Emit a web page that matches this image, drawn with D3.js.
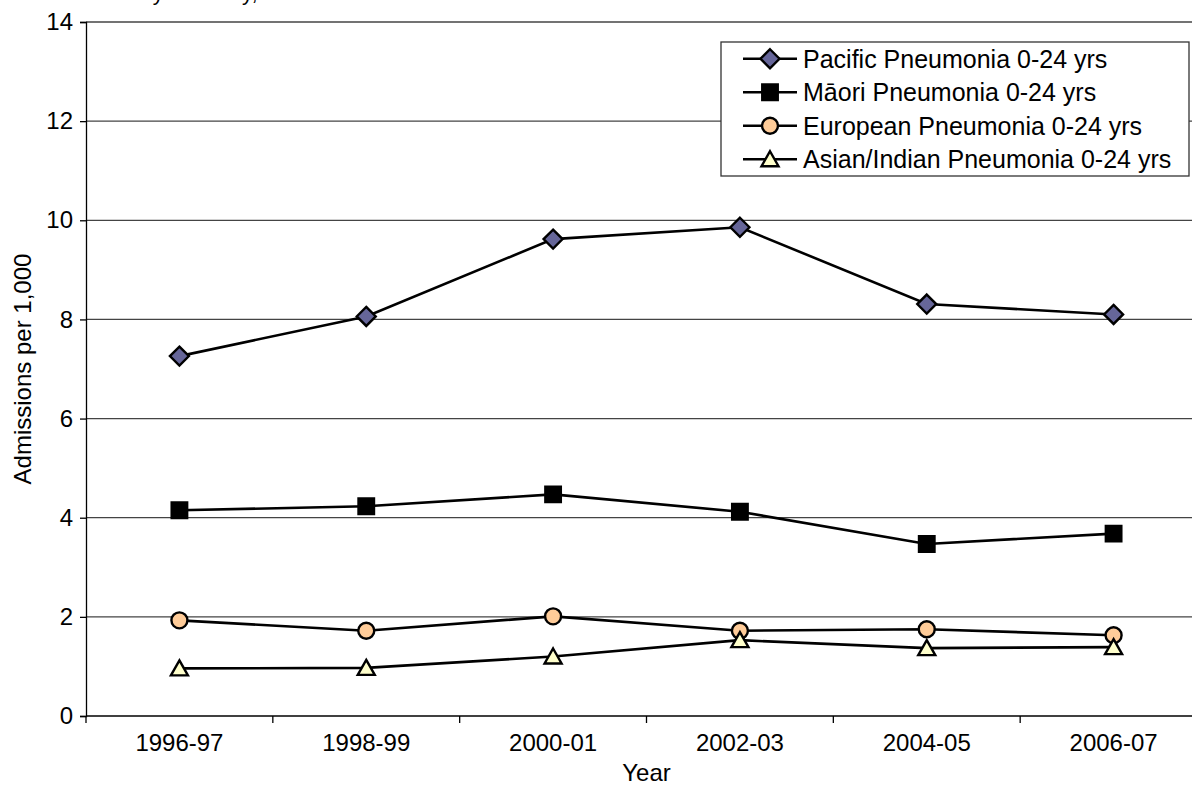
<!DOCTYPE html>
<html>
<head>
<meta charset="utf-8">
<script src="https://cdn.jsdelivr.net/npm/d3@7"></script>
<style>
  html, body { margin: 0; padding: 0; background: #fff; }
  svg { display: block; font-family: "Liberation Sans", Arial, sans-serif; }
</style>
</head>
<body>
<svg id="chart" width="1192" height="785"></svg>
<script>
const categories = ["1996-97", "1998-99", "2000-01", "2002-03", "2004-05", "2006-07"];
const pacific  = [7.26, 8.06, 9.62, 9.86, 8.31, 8.10];
const maori    = [4.15, 4.23, 4.47, 4.12, 3.47, 3.68];
const european = [1.93, 1.72, 2.01, 1.72, 1.75, 1.63];
const asian    = [0.96, 0.97, 1.20, 1.53, 1.37, 1.39];
const seriesNames = ["Pacific Pneumonia 0-24 yrs", "Māori Pneumonia 0-24 yrs", "European Pneumonia 0-24 yrs", "Asian/Indian Pneumonia 0-24 yrs"];
const yTicks = [0, 2, 4, 6, 8, 10, 12, 14];
const titleText = "Rates by Ethnicity, New Zealand 1996–97 to 2006–07";

(function () {
const series = [
  { name: seriesNames[0], values: pacific,  shape: "diamond",  fill: "#666699" },
  { name: seriesNames[1], values: maori,    shape: "square",   fill: "#000000" },
  { name: seriesNames[2], values: european, shape: "circle",   fill: "#FFCC99" },
  { name: seriesNames[3], values: asian,    shape: "triangle", fill: "#FFFFCC" }
];

const svg = d3.select("#chart");
const pLeft = 86, pRight = 1207, pTop = 22, pBottom = 716;

const x = d3.scaleBand().domain(categories).range([pLeft, pRight]).padding(0);
const y = d3.scaleLinear().domain([0, 14]).range([pBottom, pTop]);
const cx = c => x(c) + x.bandwidth() / 2;

// title (cropped at top in the original)
svg.append("text").attr("x", 77).attr("y", 0)
  .attr("font-size", 22).attr("fill", "#000").text(titleText);

// gridlines
svg.append("g").selectAll("line").data(yTicks.filter(d => d > 0)).join("line")
  .attr("x1", pLeft).attr("x2", pRight)
  .attr("y1", d => y(d)).attr("y2", d => y(d))
  .attr("stroke", "#444").attr("stroke-width", 1.3);

// y axis
const yAxis = svg.append("g").attr("transform", `translate(${pLeft},0)`)
  .call(d3.axisLeft(y).tickValues(yTicks).tickSize(6).tickPadding(7).tickFormat(d3.format("d")));
yAxis.selectAll("text").attr("font-size", 24).attr("fill", "#000").attr("font-family", "Liberation Sans, Arial, sans-serif");
yAxis.selectAll("line").attr("stroke", "#000").attr("stroke-width", 1.3);
yAxis.select(".domain").attr("stroke", "#000").attr("stroke-width", 1.3);

// x axis
const xAxis = svg.append("g").attr("transform", `translate(0,${pBottom})`)
  .call(d3.axisBottom(x).tickSize(0).tickPadding(18));
xAxis.select(".domain").remove();
xAxis.selectAll("text").attr("font-size", 24).attr("fill", "#000").attr("font-family", "Liberation Sans, Arial, sans-serif");
svg.append("line").attr("x1", pLeft).attr("x2", pRight).attr("y1", pBottom).attr("y2", pBottom)
  .attr("stroke", "#000").attr("stroke-width", 1.3);
svg.append("g").selectAll("line").data(categories).join("line")
  .attr("x1", d => x(d)).attr("x2", d => x(d))
  .attr("y1", pBottom).attr("y2", pBottom + 7)
  .attr("stroke", "#000").attr("stroke-width", 1.3);

// axis titles
svg.append("text").attr("x", (pLeft + pRight) / 2).attr("y", 781)
  .attr("text-anchor", "middle").attr("font-size", 24).text("Year");
svg.append("text").attr("transform", `translate(31,${(pTop + pBottom) / 2}) rotate(-90)`)
  .attr("text-anchor", "middle").attr("font-size", 24).text("Admissions per 1,000");

function symbolPath(shape) {
  if (shape === "diamond") return "M0,-9.5L9.5,0L0,9.5L-9.5,0Z";
  if (shape === "square") return d3.symbol(d3.symbolSquare, 240)();
  if (shape === "circle") return d3.symbol(d3.symbolCircle, Math.PI * 8 * 8)();
  return "M0,-8L8.5,7L-8.5,7Z";
}

const line = d3.line().x(d => cx(d.c)).y(d => y(d.v));

series.forEach(s => {
  const pts = categories.map((c, i) => ({ c, v: s.values[i] }));
  const g = svg.append("g");
  g.append("path").datum(pts).attr("d", line)
    .attr("fill", "none").attr("stroke", "#000").attr("stroke-width", 2.6);
  g.selectAll("path.m").data(pts).join("path").attr("class", "m")
    .attr("d", symbolPath(s.shape))
    .attr("transform", d => `translate(${cx(d.c)},${y(d.v)})`)
    .attr("fill", s.fill).attr("stroke", "#000").attr("stroke-width", 2.4);
});

// legend
const lg = svg.append("g");
lg.append("rect").attr("x", 721).attr("y", 42).attr("width", 468).attr("height", 134)
  .attr("fill", "#fff").attr("stroke", "#333").attr("stroke-width", 1.3);
series.forEach((s, i) => {
  const yy = 42 + 16.75 + 33.5 * i;
  lg.append("line").attr("x1", 743).attr("x2", 797).attr("y1", yy).attr("y2", yy)
    .attr("stroke", "#000").attr("stroke-width", 2.6);
  lg.append("path").attr("d", symbolPath(s.shape)).attr("transform", `translate(770,${yy})`)
    .attr("fill", s.fill).attr("stroke", "#000").attr("stroke-width", 2.4);
  lg.append("text").attr("x", 803).attr("y", yy).attr("dy", "0.35em")
    .attr("font-size", 25).text(s.name);
});
})();
</script>
</body>
</html>
